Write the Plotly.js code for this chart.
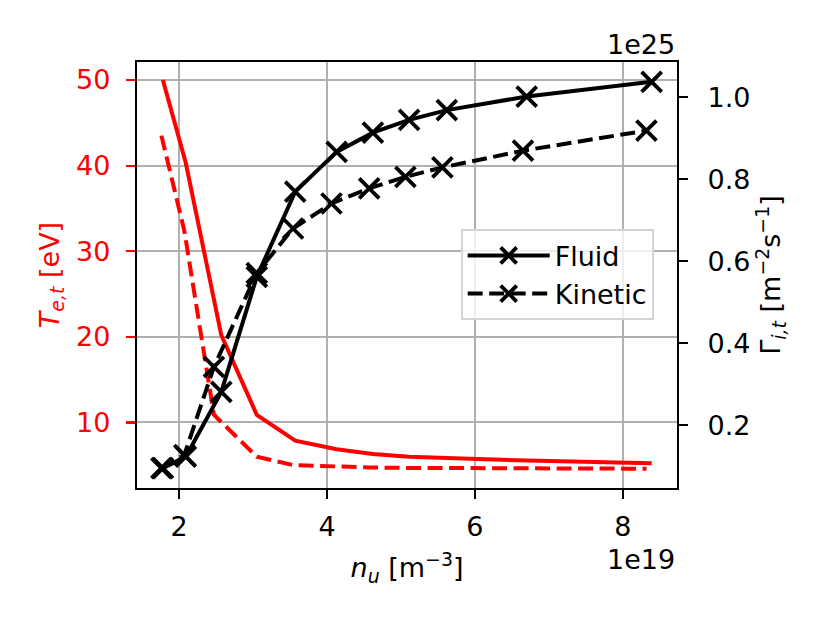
<!DOCTYPE html>
<html>
<head>
<meta charset="utf-8">
<script src="https://cdn.plot.ly/plotly-3.0.1.min.js"></script>
<style>
  body { margin: 0; background: #fff; }
  #grafico { width: 830px; height: 623px; }
</style>
</head>
<body>
<div id="grafico"></div>
<script>
// upstream density n_u, in units of 1e19 m^-3
var nuFluid   = [1.78, 2.09, 2.57, 3.05, 3.57, 4.13, 4.62, 5.11, 5.62, 6.70, 8.39];
var nuKinetic = [1.76, 2.07, 2.47, 3.05, 3.54, 4.06, 4.57, 5.06, 5.56, 6.65, 8.32];

// target electron temperature T_e,t [eV]
var teFluid   = [50.0, 40.3, 20.2, 10.9, 7.87, 6.87, 6.32, 6.0, 5.85, 5.55, 5.23];
var teKinetic = [43.5, 32.4, 10.9, 6.0, 5.03, 4.85, 4.75, 4.7, 4.68, 4.65, 4.6];

// target ion flux Gamma_i,t, in units of 1e25 m^-2 s^-1
var gamFluid   = [0.095, 0.123, 0.281, 0.562, 0.770, 0.867, 0.914, 0.945, 0.969, 1.002, 1.038];
var gamKinetic = [0.095, 0.127, 0.342, 0.571, 0.680, 0.741, 0.778, 0.806, 0.829, 0.870, 0.919];

var FONT = 'DejaVu Sans, sans-serif';
var dashPat = '15px,6.5px';

var traceTeF = {
  x: nuFluid, y: teFluid, yaxis: 'y', type: 'scatter', mode: 'lines',
  line: {color: '#ff0000', width: 4}, showlegend: false, name: 'Te fluid'
};
var traceTeK = {
  x: nuKinetic, y: teKinetic, yaxis: 'y', type: 'scatter', mode: 'lines',
  line: {color: '#ff0000', width: 4, dash: dashPat}, showlegend: false, name: 'Te kinetic'
};
var traceGF = {
  x: nuFluid, y: gamFluid, yaxis: 'y2', type: 'scatter', mode: 'lines+markers',
  name: 'Fluid',
  line: {color: '#000', width: 4},
  marker: {symbol: 'x-thin', size: 20, color: '#000', line: {color: '#000', width: 3.8}}
};
var traceGK = {
  x: nuKinetic, y: gamKinetic, yaxis: 'y2', type: 'scatter', mode: 'lines+markers',
  name: 'Kinetic',
  line: {color: '#000', width: 4, dash: dashPat},
  marker: {symbol: 'x-thin', size: 20, color: '#000', line: {color: '#000', width: 3.8}}
};

var layout = {
  width: 830, height: 623,
  margin: {l: 137, r: 153, t: 62, b: 135},
  paper_bgcolor: '#fff', plot_bgcolor: '#fff',
  font: {family: FONT, size: 27, color: '#000'},
  showlegend: true,
  legend: {
    x: 0.5994, y: 0.607, xanchor: 'left', yanchor: 'top',
    bgcolor: 'rgba(255,255,255,0.8)', bordercolor: '#d4d4d4', borderwidth: 2,
    font: {family: FONT, size: 27, color: '#000'},
    itemwidth: 82, entrywidth: 200, entrywidthmode: 'pixels'
  },
  xaxis: {
    range: [1.43, 8.733], tick0: 0, dtick: 2,
    showline: true, linecolor: '#000', linewidth: 2.2, mirror: true,
    ticks: 'outside', ticklen: 9, tickwidth: 2.2, tickcolor: '#000',
    ticklabelstandoff: 4,
    showgrid: true, gridcolor: '#b0b0b0', gridwidth: 2, zeroline: false,
    tickfont: {family: FONT, size: 27, color: '#000'},
    title: {text: '<i>n<sub>u</sub></i> [m<sup>−3</sup>]', standoff: 18,
            font: {family: FONT, size: 27, color: '#000'}}
  },
  yaxis: {
    range: [2.35, 52.1], tick0: 0, dtick: 10,
    showline: true, linecolor: '#000', linewidth: 2.2,
    ticks: 'outside', ticklen: 9, tickwidth: 2.2, tickcolor: '#ff0000',
    ticklabelstandoff: 10,
    showgrid: true, gridcolor: '#b0b0b0', gridwidth: 2, zeroline: false,
    tickfont: {family: FONT, size: 27, color: '#ff0000'},
    title: {text: '<i>T<sub>e,t</sub></i> [eV]', standoff: 9,
            font: {family: FONT, size: 27, color: '#ff0000'}}
  },
  yaxis2: {
    overlaying: 'y', side: 'right',
    range: [0.0464, 1.0864], tick0: 0, dtick: 0.2, tickformat: '.1f',
    showline: true, linecolor: '#000', linewidth: 2.2,
    ticks: 'outside', ticklen: 9, tickwidth: 2.2, tickcolor: '#000',
    ticklabelstandoff: 14,
    showgrid: false, zeroline: false,
    tickfont: {family: FONT, size: 27, color: '#000'},
    title: {text: 'Γ<sub><i>i,t</i></sub> [m<sup>−2</sup>s<sup>−1</sup>]', standoff: 6,
            font: {family: FONT, size: 27, color: '#000'}}
  },
  annotations: [
    {text: '1e25', xref: 'paper', yref: 'paper', x: 1, y: 1.042,
     xanchor: 'right', yanchor: 'middle', showarrow: false,
     font: {family: FONT, size: 27, color: '#000'}},
    {text: '1e19', xref: 'paper', yref: 'paper', x: 1, y: -0.169,
     xanchor: 'right', yanchor: 'middle', showarrow: false,
     font: {family: FONT, size: 27, color: '#000'}}
  ]
};

Plotly.newPlot('grafico', [traceTeF, traceTeK, traceGF, traceGK], layout, {staticPlot: true});
</script>
</body>
</html>
